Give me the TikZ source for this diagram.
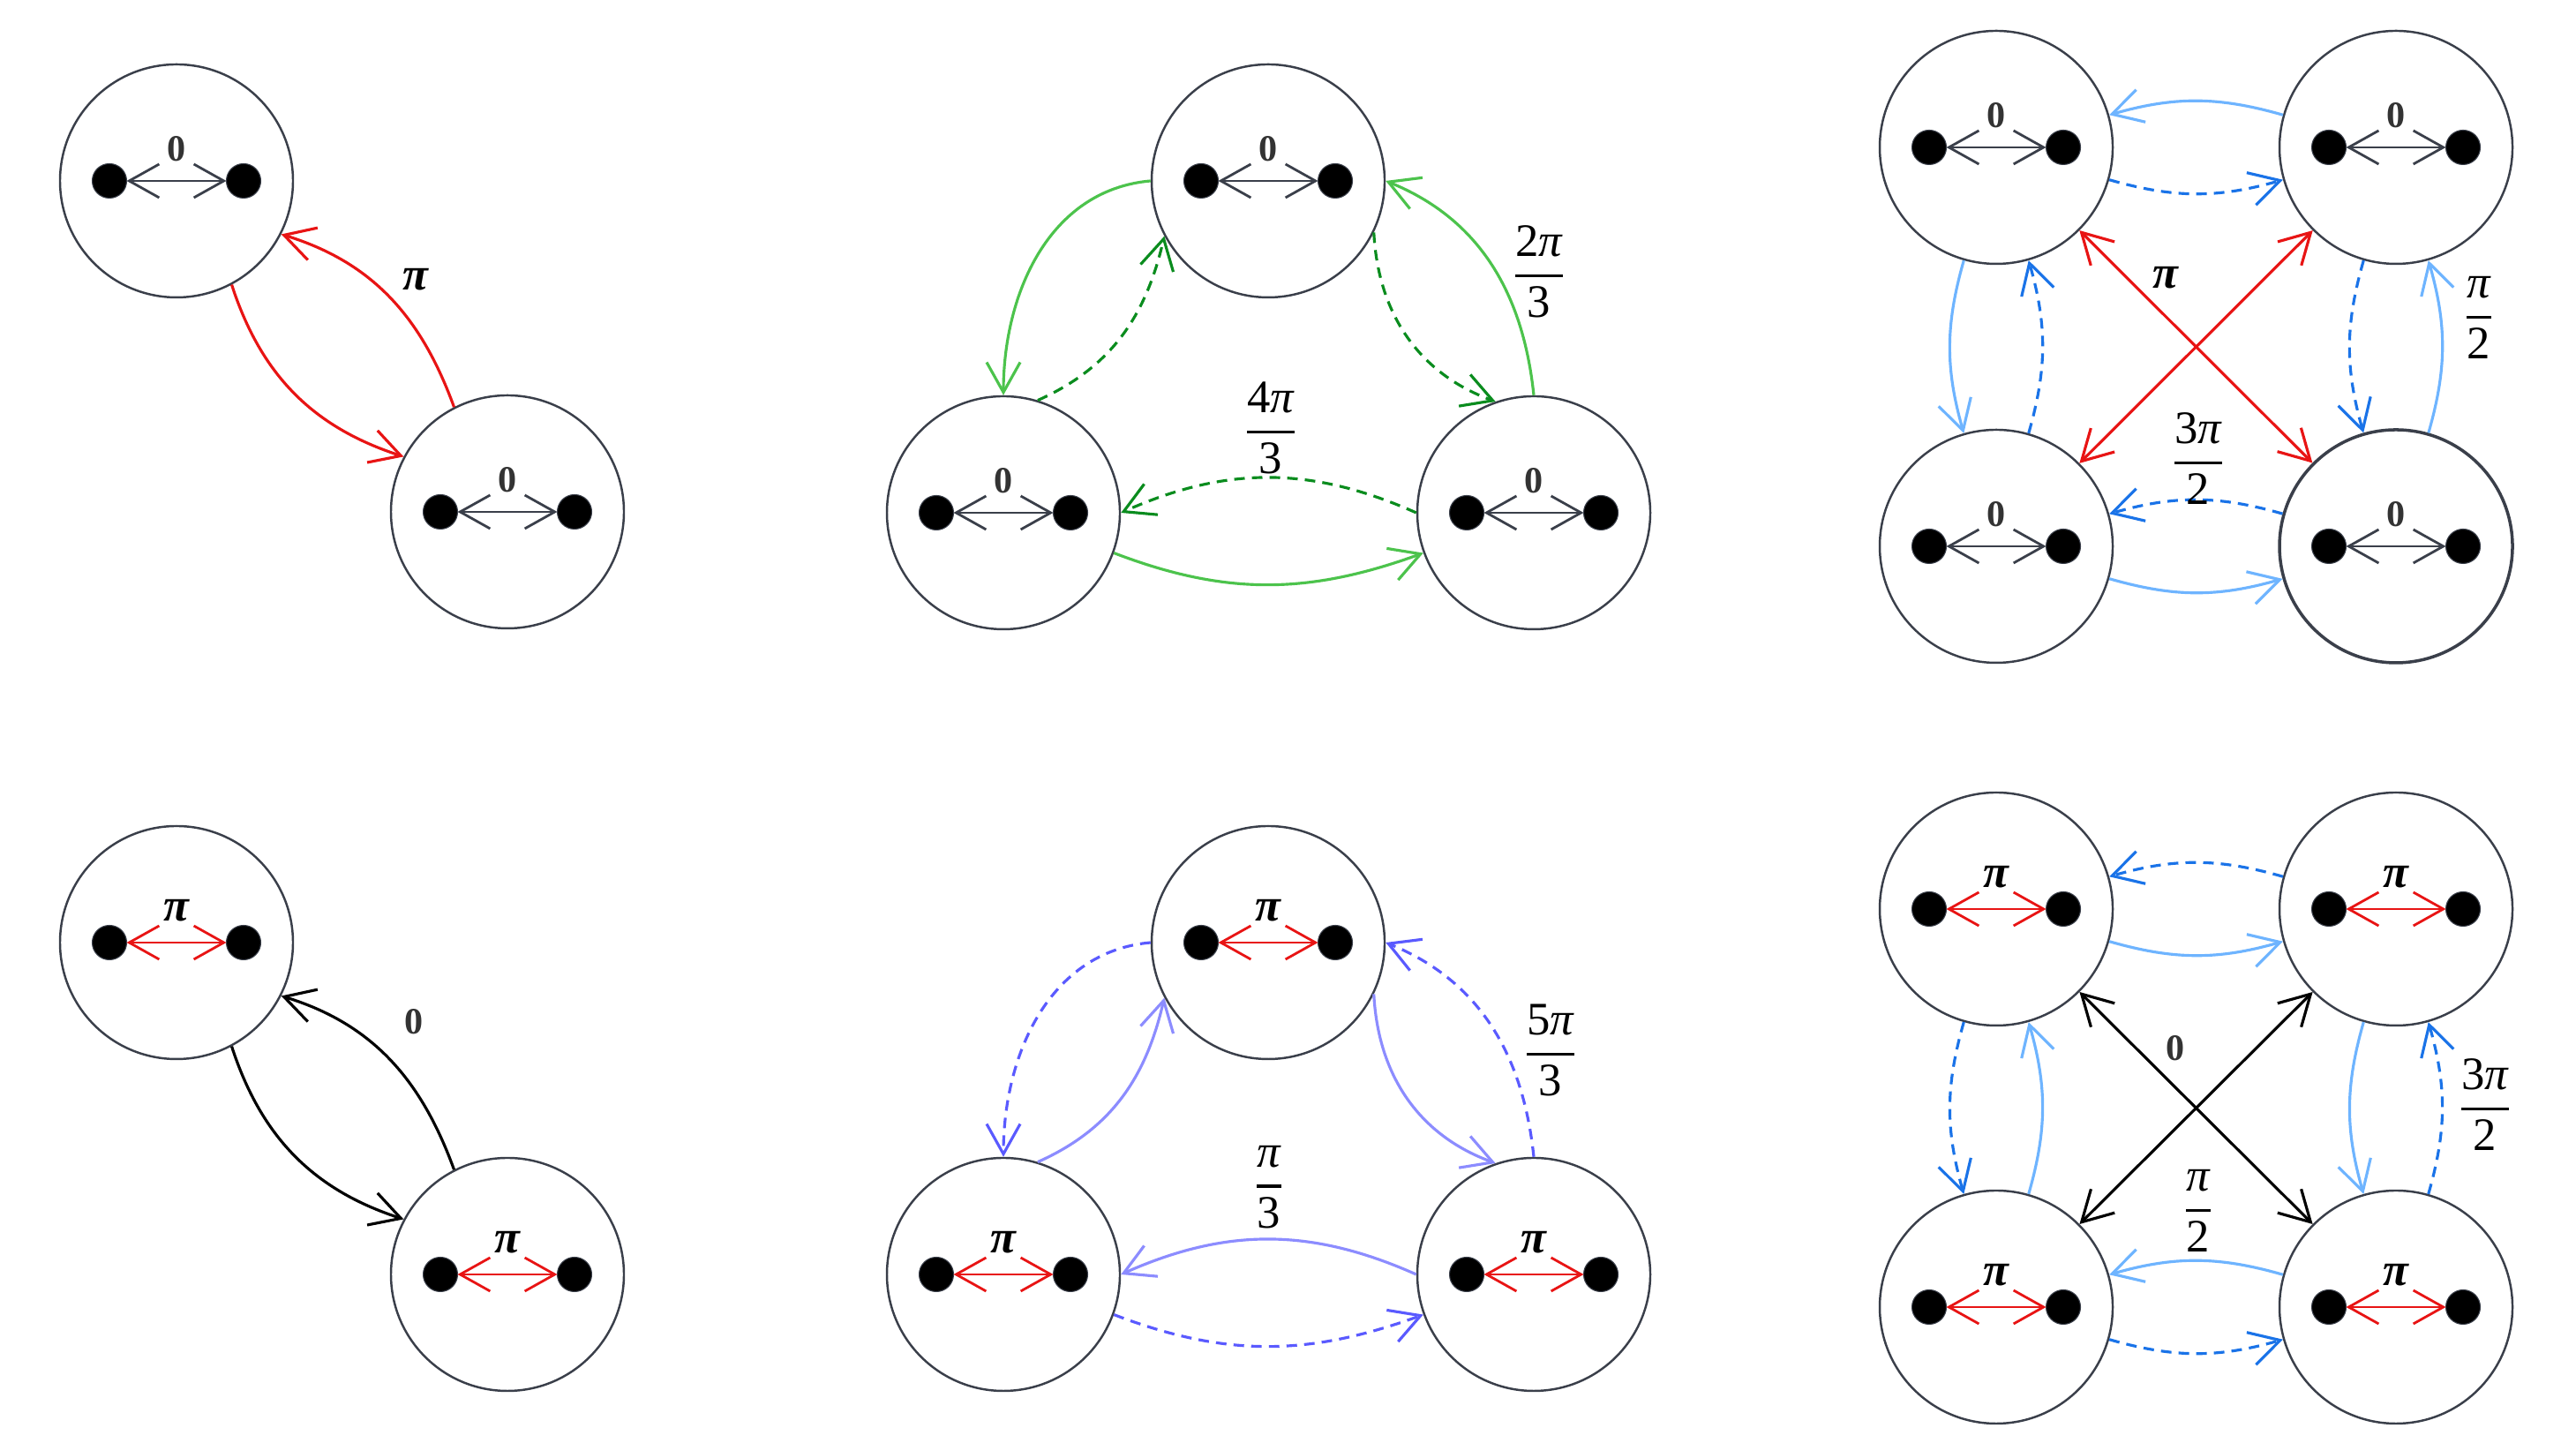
\documentclass[tikz,border=0pt]{standalone}
\usepackage{amsmath}
\usepackage{fontspec}
\setmainfont{Liberation Serif}
\definecolor{stateGray}{RGB}{58,63,74}
\definecolor{phaseRed}{RGB}{232,20,20}
\definecolor{greenLight}{RGB}{76,195,76}
\definecolor{greenDark}{RGB}{10,140,30}
\definecolor{blueLight}{RGB}{110,180,255}
\definecolor{blueDark}{RGB}{26,115,232}
\definecolor{purpleLight}{RGB}{140,140,255}
\definecolor{purpleDark}{RGB}{90,90,255}
\usetikzlibrary{arrows.meta}

% one oscillator pair: [extra] name, position, arrow colour, label style, label
\newcommand{\oscstate}[6][]{%
  \node[osc, #1] (#2) at (#3) {};
  \node[dot] (#2-l) at ([xshift=-7.6mm]#2.center) {};
  \node[dot] (#2-r) at ([xshift=7.6mm]#2.center) {};
  \draw[inner, #4] (#2-l) -- (#2-r);
  \node[#5] (#2-ph) at ([yshift=3.6mm]#2.center) {#6};
}
% phase fraction with a heavier bar
\newcommand{\phfrac}[2]{$\genfrac{}{}{0.9pt}{0}{\text{#1}}{\text{#2}}$}

\begin{document}
\begin{tikzpicture}[
    osc/.style={circle, draw=stateGray, line width=0.7pt, minimum size=2.64cm, inner sep=0pt},
    dot/.style={circle, fill=black, draw=stateGray, line width=0.3pt, minimum size=3.9mm, inner sep=0pt, outer sep=0pt},
    inner/.style={line width=0.8pt, {Straight Barb[length=3.4mm,width=3.8mm]}-{Straight Barb[length=3.4mm,width=3.8mm]}},
    link/.style={line width=0.9pt, -{Straight Barb[length=3.4mm,width=3.8mm]}},
    dashlink/.style={link, dash pattern=on 3.4pt off 2.3pt},
    cross/.style={line width=0.9pt, {Straight Barb[length=3.4mm,width=3.8mm]}-{Straight Barb[length=3.4mm,width=3.8mm]}},
    zero/.style={font=\fontsize{12}{14}\selectfont\bfseries, text=black!80},
    pilab/.style={font=\fontsize{15}{17}\selectfont\bfseries\itshape},
    frac/.style={font=\fontsize{15}{17}\selectfont}
  ]
  \useasboundingbox (0,0) rectangle (29.19,16.35);

  % two states, in phase
  \oscstate{p1a}{2.00,14.30}{stateGray}{zero}{0}
  \oscstate{p1b}{5.75,10.55}{stateGray}{zero}{0}
  \draw[link, phaseRed] (p1a.-62) to[out=-72, in=162] (p1b.152);
  \draw[link, phaseRed] (p1b.117) to[out=110, in=-17] (p1a.-27);
  \node[pilab] (p1-lab) at (4.71,13.18) {π};

  % three states, in phase
  \oscstate{p2t}{14.37,14.30}{stateGray}{zero}{0}
  \oscstate{p2l}{11.37,10.54}{stateGray}{zero}{0}
  \oscstate{p2r}{17.38,10.54}{stateGray}{zero}{0}
  \draw[link, greenLight] (p2t.180) to[out=185, in=90] (p2l.90);
  \draw[dashlink, greenDark] (p2l.73) to[out=24, in=257] (p2t.208);
  \draw[dashlink, greenDark] (p2t.-26) to[out=-87, in=160] (p2r.109);
  \draw[link, greenLight] (p2r.90) to[out=96, in=-22] (p2t.0);
  \draw[dashlink, greenDark] (p2r.180) to[out=156, in=24] (p2l.0);
  \draw[link, greenLight] (p2l.-20) to[out=-21, in=200] (p2r.200);
  \node[frac] (p2-lab1) at (17.44,13.27) {\phfrac{2\textit{π}}{3}};
  \node[frac] (p2-lab2) at (14.40,11.50) {\phfrac{4\textit{π}}{3}};

  % four states, in phase
  \oscstate{p3a}{22.62,14.68}{stateGray}{zero}{0}
  \oscstate{p3b}{27.15,14.68}{stateGray}{zero}{0}
  \oscstate{p3c}{22.62,10.16}{stateGray}{zero}{0}
  \oscstate[line width=1pt]{p3d}{27.15,10.16}{stateGray}{zero}{0}
  \draw[link, blueLight] (p3b) to[bend right=16] (p3a);
  \draw[dashlink, blueDark] (p3a) to[bend right=16] (p3b);
  \draw[link, blueLight] (p3a) to[bend right=16] (p3c);
  \draw[dashlink, blueDark] (p3c) to[bend right=16] (p3a);
  \draw[dashlink, blueDark] (p3b) to[bend right=16] (p3d);
  \draw[link, blueLight] (p3d) to[bend right=16] (p3b);
  \draw[dashlink, blueDark] (p3d) to[bend right=16] (p3c);
  \draw[link, blueLight] (p3c) to[bend right=16] (p3d);
  \draw[cross, phaseRed] (p3a) -- (p3d);
  \draw[cross, phaseRed] (p3b) -- (p3c);
  \node[pilab] (p3-lab1) at (24.54,13.20) {π};
  \node[frac] (p3-lab2) at (28.09,12.75) {\phfrac{\textit{π}}{2}};
  \node[frac] (p3-lab3) at (24.91,11.15) {\phfrac{3\textit{π}}{2}};

  % two states, anti-phase
  \oscstate{p4a}{2.00,5.67}{phaseRed}{pilab}{π}
  \oscstate{p4b}{5.75,1.91}{phaseRed}{pilab}{π}
  \draw[link, black] (p4a.-62) to[out=-72, in=162] (p4b.152);
  \draw[link, black] (p4b.117) to[out=110, in=-17] (p4a.-27);
  \node[zero] (p4-lab) at (4.69,4.77) {0};

  % three states, anti-phase
  \oscstate{p5t}{14.37,5.67}{phaseRed}{pilab}{π}
  \oscstate{p5l}{11.37,1.91}{phaseRed}{pilab}{π}
  \oscstate{p5r}{17.38,1.91}{phaseRed}{pilab}{π}
  \draw[dashlink, purpleDark] (p5t.180) to[out=185, in=90] (p5l.90);
  \draw[link, purpleLight] (p5l.73) to[out=24, in=257] (p5t.208);
  \draw[link, purpleLight] (p5t.-26) to[out=-87, in=160] (p5r.109);
  \draw[dashlink, purpleDark] (p5r.90) to[out=96, in=-22] (p5t.0);
  \draw[link, purpleLight] (p5r.180) to[out=156, in=24] (p5l.0);
  \draw[dashlink, purpleDark] (p5l.-20) to[out=-21, in=200] (p5r.200);
  \node[frac] (p5-lab1) at (17.57,4.45) {\phfrac{5\textit{π}}{3}};
  \node[frac] (p5-lab2) at (14.38,2.90) {\phfrac{\textit{π}}{3}};

  % four states, anti-phase
  \oscstate{p6a}{22.62,6.05}{phaseRed}{pilab}{π}
  \oscstate{p6b}{27.15,6.05}{phaseRed}{pilab}{π}
  \oscstate{p6c}{22.62,1.54}{phaseRed}{pilab}{π}
  \oscstate{p6d}{27.15,1.54}{phaseRed}{pilab}{π}
  \draw[dashlink, blueDark] (p6b) to[bend right=16] (p6a);
  \draw[link, blueLight] (p6a) to[bend right=16] (p6b);
  \draw[dashlink, blueDark] (p6a) to[bend right=16] (p6c);
  \draw[link, blueLight] (p6c) to[bend right=16] (p6a);
  \draw[link, blueLight] (p6b) to[bend right=16] (p6d);
  \draw[dashlink, blueDark] (p6d) to[bend right=16] (p6b);
  \draw[link, blueLight] (p6d) to[bend right=16] (p6c);
  \draw[dashlink, blueDark] (p6c) to[bend right=16] (p6d);
  \draw[cross, black] (p6a) -- (p6d);
  \draw[cross, black] (p6b) -- (p6c);
  \node[zero] (p6-lab1) at (24.65,4.47) {0};
  \node[frac] (p6-lab2) at (28.16,3.83) {\phfrac{3\textit{π}}{2}};
  \node[frac] (p6-lab3) at (24.91,2.63) {\phfrac{\textit{π}}{2}};
\end{tikzpicture}
\end{document}
